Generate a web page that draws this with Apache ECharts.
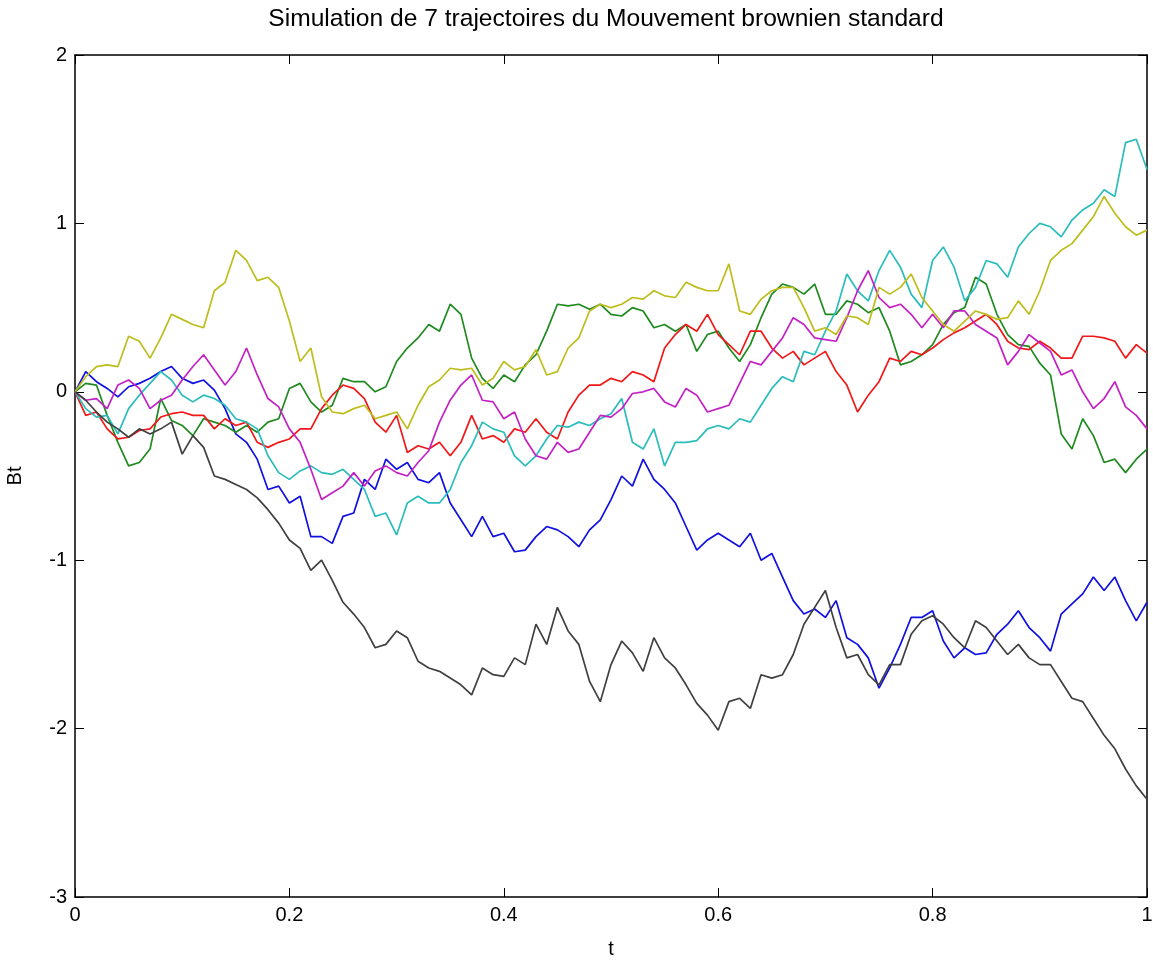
<!DOCTYPE html>
<html>
<head>
<meta charset="utf-8">
<script src="https://cdn.jsdelivr.net/npm/echarts@6/dist/echarts.min.js"></script>
<style>
  html, body { margin: 0; padding: 0; background: #fff; }
  #chart { width: 1153px; height: 967px; }
</style>
</head>
<body>
<div id="chart"></div>
<script>
// Time grid shared by every trajectory
const times = [0,0.01,0.02,0.03,0.04,0.05,0.06,0.07,0.08,0.09,
  0.1,0.11,0.12,0.13,0.14,0.15,0.16,0.17,0.18,0.19,
  0.2,0.21,0.22,0.23,0.24,0.25,0.26,0.27,0.28,0.29,
  0.3,0.31,0.32,0.33,0.34,0.35,0.36,0.37,0.38,0.39,
  0.4,0.41,0.42,0.43,0.44,0.45,0.46,0.47,0.48,0.49,
  0.5,0.51,0.52,0.53,0.54,0.55,0.56,0.57,0.58,0.59,
  0.6,0.61,0.62,0.63,0.64,0.65,0.66,0.67,0.68,0.69,
  0.7,0.71,0.72,0.73,0.74,0.75,0.76,0.77,0.78,0.79,
  0.8,0.81,0.82,0.83,0.84,0.85,0.86,0.87,0.88,0.89,
  0.9,0.91,0.92,0.93,0.94,0.95,0.96,0.97,0.98,0.99,1];

// Seven sample paths of B(t)
const pathBlue = [0,0.12,0.06,0.02,-0.03,0.03,0.05,0.08,0.12,0.15,
  0.08,0.05,0.07,0.01,-0.10,-0.25,-0.30,-0.40,-0.58,-0.56,
  -0.66,-0.62,-0.86,-0.86,-0.90,-0.74,-0.72,-0.52,-0.58,-0.40,
  -0.46,-0.42,-0.52,-0.54,-0.48,-0.66,-0.76,-0.86,-0.74,-0.86,
  -0.84,-0.95,-0.94,-0.86,-0.80,-0.82,-0.86,-0.92,-0.82,-0.76,
  -0.64,-0.50,-0.56,-0.40,-0.52,-0.58,-0.66,-0.80,-0.94,-0.88,
  -0.84,-0.88,-0.92,-0.84,-1.00,-0.96,-1.10,-1.24,-1.32,-1.29,
  -1.34,-1.24,-1.46,-1.50,-1.58,-1.76,-1.64,-1.50,-1.34,-1.34,
  -1.30,-1.48,-1.58,-1.52,-1.56,-1.55,-1.44,-1.38,-1.30,-1.40,
  -1.46,-1.54,-1.32,-1.26,-1.20,-1.10,-1.18,-1.10,-1.24,-1.36,-1.25];

const pathGreen = [0,0.05,0.04,-0.14,-0.30,-0.44,-0.42,-0.34,-0.04,-0.17,
  -0.20,-0.26,-0.16,-0.18,-0.20,-0.24,-0.20,-0.24,-0.18,-0.16,
  0.02,0.05,-0.06,-0.12,-0.08,0.08,0.06,0.06,0.00,0.03,
  0.18,0.26,0.32,0.40,0.36,0.52,0.46,0.20,0.08,0.02,
  0.10,0.06,0.16,0.22,0.36,0.52,0.51,0.52,0.49,0.52,
  0.46,0.45,0.50,0.48,0.38,0.40,0.36,0.40,0.24,0.34,
  0.36,0.26,0.18,0.28,0.44,0.58,0.64,0.62,0.58,0.64,
  0.46,0.46,0.54,0.52,0.47,0.50,0.36,0.16,0.18,0.22,
  0.28,0.40,0.47,0.50,0.68,0.64,0.46,0.34,0.28,0.27,
  0.17,0.10,-0.25,-0.34,-0.16,-0.26,-0.42,-0.40,-0.48,-0.40,-0.34];

const pathRed = [0,-0.14,-0.12,-0.22,-0.28,-0.27,-0.23,-0.22,-0.15,-0.13,
  -0.12,-0.14,-0.14,-0.22,-0.16,-0.20,-0.18,-0.30,-0.33,-0.30,
  -0.28,-0.22,-0.22,-0.10,-0.02,0.04,0.02,-0.04,-0.18,-0.24,
  -0.14,-0.36,-0.32,-0.34,-0.30,-0.38,-0.30,-0.14,-0.28,-0.26,
  -0.30,-0.22,-0.24,-0.16,-0.24,-0.28,-0.12,-0.02,0.04,0.04,
  0.08,0.06,0.12,0.10,0.06,0.26,0.34,0.40,0.36,0.46,
  0.34,0.28,0.22,0.36,0.36,0.26,0.20,0.24,0.16,0.20,
  0.24,0.12,0.04,-0.12,-0.02,0.06,0.20,0.18,0.24,0.22,
  0.26,0.31,0.35,0.38,0.42,0.46,0.40,0.30,0.26,0.25,
  0.30,0.26,0.20,0.20,0.33,0.33,0.32,0.30,0.20,0.28,0.23];

const pathCyan = [0,-0.10,-0.15,-0.14,-0.25,-0.10,-0.02,0.05,0.12,0.07,
  -0.02,-0.06,-0.02,-0.04,-0.08,-0.16,-0.18,-0.22,-0.38,-0.48,
  -0.52,-0.47,-0.44,-0.48,-0.49,-0.46,-0.52,-0.58,-0.74,-0.72,
  -0.85,-0.66,-0.62,-0.66,-0.66,-0.58,-0.42,-0.32,-0.18,-0.22,
  -0.24,-0.38,-0.44,-0.38,-0.28,-0.20,-0.21,-0.18,-0.20,-0.16,
  -0.13,-0.04,-0.30,-0.34,-0.22,-0.44,-0.30,-0.30,-0.29,-0.22,
  -0.20,-0.22,-0.16,-0.18,-0.08,0.02,0.09,0.06,0.24,0.22,
  0.36,0.48,0.70,0.60,0.54,0.72,0.84,0.74,0.58,0.50,
  0.78,0.86,0.74,0.54,0.62,0.78,0.76,0.68,0.86,0.94,
  1.00,0.98,0.92,1.02,1.08,1.12,1.20,1.16,1.48,1.50,1.32];

const pathMagenta = [0,-0.05,-0.04,-0.10,0.04,0.07,0.02,-0.10,-0.05,-0.02,
  0.07,0.15,0.22,0.13,0.04,0.12,0.26,0.10,-0.04,-0.09,
  -0.22,-0.30,-0.46,-0.64,-0.60,-0.56,-0.48,-0.56,-0.47,-0.44,
  -0.48,-0.50,-0.42,-0.35,-0.18,-0.05,0.04,0.10,-0.05,-0.06,
  -0.16,-0.12,-0.28,-0.38,-0.40,-0.30,-0.36,-0.34,-0.24,-0.14,
  -0.15,-0.10,-0.01,0.00,0.02,-0.06,-0.09,0.02,-0.02,-0.12,
  -0.10,-0.08,0.05,0.18,0.16,0.24,0.32,0.44,0.40,0.32,
  0.31,0.30,0.44,0.60,0.72,0.56,0.50,0.52,0.46,0.38,
  0.46,0.38,0.48,0.48,0.40,0.36,0.32,0.16,0.24,0.34,
  0.29,0.24,0.10,0.13,0.00,-0.10,-0.04,0.06,-0.09,-0.14,-0.22];

const pathYellow = [0,0.09,0.15,0.16,0.15,0.33,0.30,0.20,0.32,0.46,
  0.43,0.40,0.38,0.60,0.65,0.84,0.78,0.66,0.68,0.62,
  0.42,0.18,0.26,-0.03,-0.12,-0.13,-0.10,-0.08,-0.16,-0.14,
  -0.12,-0.22,-0.08,0.03,0.07,0.14,0.13,0.14,0.04,0.08,
  0.18,0.13,0.15,0.25,0.10,0.12,0.26,0.32,0.48,0.52,
  0.50,0.52,0.56,0.55,0.60,0.57,0.56,0.65,0.62,0.60,
  0.60,0.76,0.48,0.46,0.55,0.60,0.62,0.62,0.50,0.36,
  0.38,0.34,0.45,0.44,0.40,0.62,0.58,0.62,0.70,0.56,
  0.48,0.40,0.36,0.42,0.48,0.46,0.43,0.44,0.54,0.46,
  0.60,0.78,0.84,0.88,0.96,1.04,1.16,1.06,0.98,0.93,0.96];

const pathBlack = [0,-0.05,-0.12,-0.18,-0.22,-0.27,-0.22,-0.25,-0.22,-0.18,
  -0.37,-0.26,-0.33,-0.50,-0.52,-0.55,-0.58,-0.63,-0.70,-0.78,
  -0.88,-0.93,-1.06,-1.00,-1.12,-1.25,-1.32,-1.40,-1.52,-1.50,
  -1.42,-1.46,-1.60,-1.64,-1.66,-1.70,-1.74,-1.80,-1.64,-1.68,
  -1.69,-1.58,-1.62,-1.38,-1.50,-1.28,-1.42,-1.50,-1.72,-1.84,
  -1.62,-1.48,-1.55,-1.66,-1.46,-1.58,-1.64,-1.74,-1.85,-1.92,
  -2.01,-1.84,-1.82,-1.88,-1.68,-1.70,-1.68,-1.56,-1.38,-1.28,
  -1.18,-1.40,-1.58,-1.56,-1.68,-1.74,-1.62,-1.62,-1.44,-1.36,
  -1.33,-1.38,-1.46,-1.52,-1.36,-1.40,-1.48,-1.56,-1.50,-1.58,
  -1.62,-1.62,-1.72,-1.82,-1.84,-1.94,-2.04,-2.12,-2.24,-2.34,-2.42];

const xTicks = { min: 0, max: 1, step: 0.2 };
const yTicks = { min: -3, max: 2, step: 1 };

const paths = [
  { values: pathBlue,    color: '#1010e0' },
  { values: pathGreen,   color: '#1f8a1f' },
  { values: pathRed,     color: '#f01818' },
  { values: pathCyan,    color: '#2bbcbc' },
  { values: pathMagenta, color: '#c421c4' },
  { values: pathYellow,  color: '#bdbd1e' },
  { values: pathBlack,   color: '#404040' }
];

const FONT = 'Liberation Sans, Arial, sans-serif';
const frameLine = { show: true, onZero: false, lineStyle: { color: '#000', width: 1.5 } };
const innerTick = { show: true, inside: true, length: 9, lineStyle: { color: '#000', width: 1 } };

const chart = echarts.init(document.getElementById('chart'), null, { renderer: 'canvas' });

chart.setOption({
  animation: false,
  backgroundColor: '#fff',
  grid: { left: 75, right: 6, top: 55, bottom: 70, containLabel: false, outerBoundsMode: 'none' },
  graphic: [{
    type: 'text', x: 606, y: 19,
    style: {
      text: 'Simulation de 7 trajectoires du Mouvement brownien standard',
      fill: '#000', font: '24.6px ' + FONT,
      textAlign: 'center', textVerticalAlign: 'middle'
    }
  }],
  xAxis: [{
    type: 'value', position: 'bottom',
    min: xTicks.min, max: xTicks.max, interval: xTicks.step,
    name: 't', nameLocation: 'middle', nameGap: 42,
    nameTextStyle: { color: '#000', fontSize: 20, fontFamily: FONT },
    axisLine: frameLine, axisTick: innerTick,
    axisLabel: { color: '#000', fontSize: 20, fontFamily: FONT, margin: 8 },
    splitLine: { show: false }
  }, {
    type: 'value', position: 'top',
    min: xTicks.min, max: xTicks.max, interval: xTicks.step,
    axisLine: frameLine, axisTick: innerTick,
    axisLabel: { show: false }, splitLine: { show: false }
  }],
  yAxis: [{
    type: 'value', position: 'left',
    min: yTicks.min, max: yTicks.max, interval: yTicks.step,
    name: 'Bt', nameLocation: 'middle', nameGap: 50, nameRotate: 90,
    nameTextStyle: { color: '#000', fontSize: 20, fontFamily: FONT },
    axisLine: frameLine, axisTick: innerTick,
    axisLabel: { color: '#000', fontSize: 20, fontFamily: FONT, margin: 8 },
    splitLine: { show: false }
  }, {
    type: 'value', position: 'right',
    min: yTicks.min, max: yTicks.max, interval: yTicks.step,
    axisLine: frameLine, axisTick: innerTick,
    axisLabel: { show: false }, splitLine: { show: false }
  }],
  series: paths.map(p => ({
    type: 'line',
    xAxisIndex: 0, yAxisIndex: 0,
    showSymbol: false, symbol: 'none',
    data: times.map((t, i) => [t, p.values[i]]),
    lineStyle: { color: p.color, width: 1.7 },
    itemStyle: { color: p.color },
    emphasis: { disabled: true }
  }))
});
</script>
</body>
</html>
